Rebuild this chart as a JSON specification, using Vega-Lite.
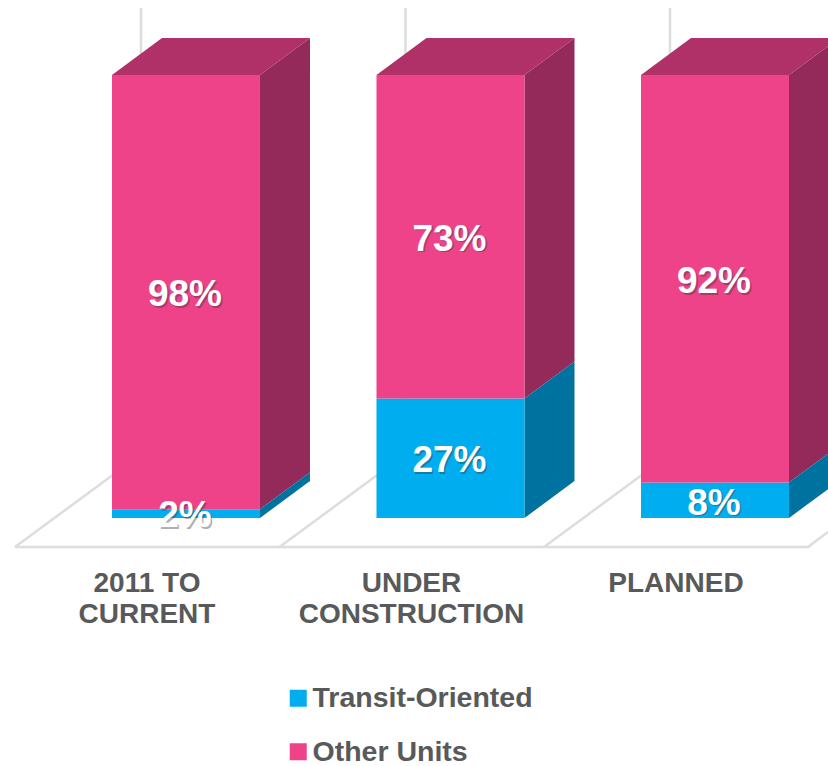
{"$schema":"https://vega.github.io/schema/vega-lite/v6.json","width":828,"height":766,"padding":0,"autosize":{"type":"none"},"background":"white","config":{"view":{"stroke":null}},
"datasets":{
"bars":[
{"category":"2011 to current","series":"Transit-Oriented","share":2,"u0":0,"u1":0.5595,"start":0,"end":2,"center":0.276,"labelAt":0.7},
{"category":"2011 to current","series":"Other Units","share":98,"u0":0,"u1":0.5595,"start":2,"end":100,"center":0.276,"labelAt":50.6},
{"category":"Under construction","series":"Transit-Oriented","share":27,"u0":1,"u1":1.5595,"start":0,"end":27,"center":1.276,"labelAt":13.1},
{"category":"Under construction","series":"Other Units","share":73,"u0":1,"u1":1.5595,"start":27,"end":100,"center":1.276,"labelAt":63.2},
{"category":"Planned","series":"Transit-Oriented","share":8,"u0":2,"u1":2.5595,"start":0,"end":8,"center":2.276,"labelAt":3.6},
{"category":"Planned","series":"Other Units","share":92,"u0":2,"u1":2.5595,"start":8,"end":100,"center":2.276,"labelAt":53.5}],
"side":[
{"face":"a-t","series":"Transit-Oriented","u":0.5595,"lo":0,"hi":2},{"face":"a-t","series":"Transit-Oriented","u":0.7485,"lo":8.35,"hi":10.35},
{"face":"a-o","series":"Other Units","u":0.5595,"lo":2,"hi":100},{"face":"a-o","series":"Other Units","u":0.7485,"lo":10.35,"hi":108.35},
{"face":"b-t","series":"Transit-Oriented","u":1.5595,"lo":0,"hi":27},{"face":"b-t","series":"Transit-Oriented","u":1.7485,"lo":8.35,"hi":35.35},
{"face":"b-o","series":"Other Units","u":1.5595,"lo":27,"hi":100},{"face":"b-o","series":"Other Units","u":1.7485,"lo":35.35,"hi":108.35},
{"face":"c-t","series":"Transit-Oriented","u":2.5595,"lo":0,"hi":8},{"face":"c-t","series":"Transit-Oriented","u":2.7485,"lo":8.35,"hi":16.35},
{"face":"c-o","series":"Other Units","u":2.5595,"lo":8,"hi":100},{"face":"c-o","series":"Other Units","u":2.7485,"lo":16.35,"hi":108.35}],
"top":[
{"face":"a","u":0,"lo":100,"hi":100},{"face":"a","u":0.189,"lo":100,"hi":108.35},{"face":"a","u":0.5595,"lo":100,"hi":108.35},{"face":"a","u":0.7485,"lo":108.35,"hi":108.35},
{"face":"b","u":1,"lo":100,"hi":100},{"face":"b","u":1.189,"lo":100,"hi":108.35},{"face":"b","u":1.5595,"lo":100,"hi":108.35},{"face":"b","u":1.7485,"lo":108.35,"hi":108.35},
{"face":"c","u":2,"lo":100,"hi":100},{"face":"c","u":2.189,"lo":100,"hi":108.35},{"face":"c","u":2.5595,"lo":100,"hi":108.35},{"face":"c","u":2.7485,"lo":108.35,"hi":108.35}],
"floor":[
{"edge":"front","u":-0.3667,"p":-6.55},{"edge":"front","u":2.6314,"p":-6.55},{"edge":"front","u":2.707,"p":-3.16},
{"edge":"a","u":-0.3667,"p":-6.55},{"edge":"a","u":0.1096,"p":14.4},
{"edge":"b","u":0.6333,"p":-6.55},{"edge":"b","u":1.1096,"p":14.4},
{"edge":"c","u":1.6333,"p":-6.55},{"edge":"c","u":2.1096,"p":14.4}],
"walls":[{"u":0.1096,"p0":14.4,"p1":115.1},{"u":1.1096,"p0":14.4,"p1":115.1},{"u":2.1096,"p0":14.4,"p1":115.1}],
"cats":[{"label":"2011 TO\nCURRENT","u":0.1323,"p":-11.7},{"label":"UNDER\nCONSTRUCTION","u":1.1323,"p":-11.7},{"label":"PLANNED","u":2.1323,"p":-11.7}]
},
"resolve":{"scale":{"x":"shared","y":"shared"}},
"layer":[
{"data":{"name":"walls"},"mark":{"type":"rule","stroke":"#dddddd","strokeWidth":2.5},"encoding":{"x":{"field":"u","type":"quantitative","scale":{"domain":[-0.4234,2.707],"nice":false,"zero":false},"axis":null},"y":{"field":"p0","type":"quantitative","scale":{"domain":[-55.98,116.93],"nice":false,"zero":false},"axis":null},"y2":{"field":"p1"}}},
{"data":{"name":"floor"},"mark":{"type":"line","stroke":"#dddddd","strokeWidth":2.5},"encoding":{"x":{"field":"u","type":"quantitative"},"y":{"field":"p","type":"quantitative"},"detail":{"field":"edge"}}},
{"data":{"name":"side"},"transform":[{"filter":"datum.series === 'Other Units'"}],"mark":{"type":"area","orient":"vertical","clip":true,"fill":"#942a5a"},"encoding":{"x":{"field":"u","type":"quantitative"},"y":{"field":"lo","type":"quantitative"},"y2":{"field":"hi"},"detail":{"field":"face"}}},
{"data":{"name":"side"},"transform":[{"filter":"datum.series === 'Transit-Oriented'"}],"mark":{"type":"area","orient":"vertical","clip":true,"fill":"#00729f"},"encoding":{"x":{"field":"u","type":"quantitative"},"y":{"field":"lo","type":"quantitative"},"y2":{"field":"hi"},"detail":{"field":"face"}}},
{"data":{"name":"top"},"mark":{"type":"area","orient":"vertical","clip":true,"fill":"#b03068"},"encoding":{"x":{"field":"u","type":"quantitative"},"y":{"field":"lo","type":"quantitative"},"y2":{"field":"hi"},"detail":{"field":"face"}}},
{"data":{"name":"bars"},"mark":{"type":"rect"},"encoding":{"x":{"field":"u0","type":"quantitative"},"x2":{"field":"u1"},"y":{"field":"start","type":"quantitative"},"y2":{"field":"end"},"color":{"field":"series","type":"nominal","scale":{"domain":["Transit-Oriented","Other Units"],"range":["#00aeef","#ee4389"]},"legend":{"title":null,"orient":"none","legendX":284,"legendY":684,"symbolType":"square","symbolSize":289,"symbolStrokeWidth":0,"labelFont":"Liberation Sans","labelFontWeight":"bold","labelFontSize":28.5,"labelColor":"#58595b","labelOffset":0,"rowPadding":24.5,"labelLimit":400}}}},
{"data":{"name":"bars"},"transform":[{"calculate":"datum.share + '%'","as":"text"}],"mark":{"type":"text","font":"Liberation Sans","fontWeight":"bold","fontSize":37,"fill":"#333333","opacity":0.38,"dx":1.5,"dy":3},"encoding":{"x":{"field":"center","type":"quantitative"},"y":{"field":"labelAt","type":"quantitative"},"text":{"field":"text"}}},
{"data":{"name":"bars"},"transform":[{"calculate":"datum.share + '%'","as":"text"}],"mark":{"type":"text","font":"Liberation Sans","fontWeight":"bold","fontSize":37,"fill":"white","dy":1.5},"encoding":{"x":{"field":"center","type":"quantitative"},"y":{"field":"labelAt","type":"quantitative"},"text":{"field":"text"}}},
{"data":{"name":"cats"},"mark":{"type":"text","font":"Liberation Sans","fontWeight":"bold","fontSize":28,"fill":"#58595b","baseline":"top","lineBreak":"\n","lineHeight":31},"encoding":{"x":{"field":"u","type":"quantitative"},"y":{"field":"p","type":"quantitative"},"text":{"field":"label"}}}
]}
